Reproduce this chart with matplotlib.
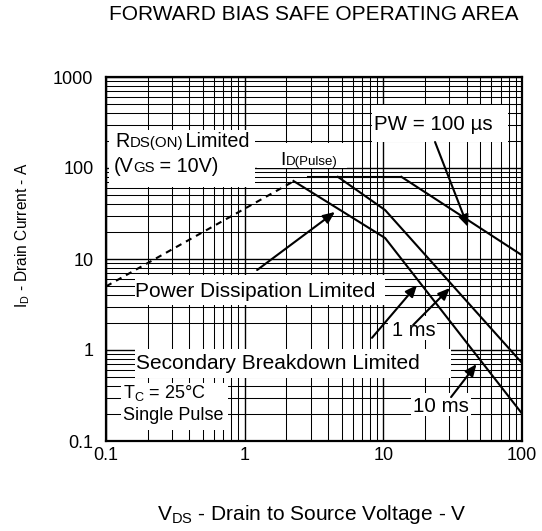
import numpy as np
import matplotlib
matplotlib.use('Agg')
import matplotlib.pyplot as plt
from matplotlib.patches import Rectangle
from matplotlib.ticker import LogLocator, NullFormatter

plt.rcParams['font.family'] = ['Liberation Sans', 'DejaVu Sans']

# limit lines (V, A)
ron_v = [0.1, 2.2]
ron_i = [5.0, 70.0]
pulse_v = [2.86, 13.5]
pulse_i = [80.0, 80.0]
us100_v = [13.5, 100.0]
us100_i = [80.0, 11.0]
ms1_v = [4.7, 10.3, 100.0]
ms1_i = [80.0, 34.5, 0.72]
ms10_v = [2.25, 10.3, 100.0]
ms10_i = [72.0, 17.0, 0.2]

x_ticks = [0.1, 1, 10, 100]
x_ticklabels = ['0.1', '1', '10', '100']
y_ticks = [0.1, 1, 10, 100, 1000]
y_ticklabels = ['0.1', '1', '10', '100', '1000']

# arrows: (tail, head) in data units
arrows = [
    ((23.6, 193.0), (40.8, 22.5)),   # PW = 100 us
    ((1.23, 7.57), (4.48, 32.9)),    # power dissipation
    ((8.28, 1.36), (17.5, 5.18)),
    ((16.4, 1.88), (30.2, 4.80)),    # 1 ms
    ((30.8, 0.304), (47.0, 0.70)),   # 10 ms
]

fig = plt.figure(figsize=(5.42, 5.31), dpi=100)
ax = fig.add_axes([106 / 542, 1 - 441 / 531, 416 / 542, 364 / 531])
ax.set_xscale('log')
ax.set_yscale('log')
ax.set_xlim(0.1, 100)
ax.set_ylim(0.1, 1000)
ax.set_xticks(x_ticks)
ax.set_xticklabels(x_ticklabels)
ax.set_yticks(y_ticks)
ax.set_yticklabels(y_ticklabels)
ax.xaxis.set_minor_locator(LogLocator(base=10, subs=np.arange(2, 10)))
ax.yaxis.set_minor_locator(LogLocator(base=10, subs=np.arange(2, 10)))
ax.xaxis.set_minor_formatter(NullFormatter())
ax.yaxis.set_minor_formatter(NullFormatter())
ax.tick_params(which='both', length=0, labelsize=13)
ax.tick_params(axis='y', pad=9)
ax.tick_params(axis='x', pad=4)
ax.set_axisbelow(True)
ax.grid(which='major', color='black', lw=1.0)
ax.grid(which='minor', color='black', lw=0.75)
for sp in ax.spines.values():
    sp.set_linewidth(1.6)


def px(x, y):
    # reference pixel -> axes fraction
    return ((x - 106) / 416, (441 - y) / 364)


def white_box(x0, y0, x1, y1):
    ax.add_patch(Rectangle(px(x0, y1), (x1 - x0) / 416, (y1 - y0) / 364,
                           transform=ax.transAxes, facecolor='white',
                           edgecolor='none', zorder=2))


renderer = fig.canvas.get_renderer()


def rich_text(x, y, runs):
    # runs of (text, size, kern after) on one baseline
    dx = 0
    for s, size, kern in runs:
        t = ax.annotate(s, px(x, y), xycoords='axes fraction', xytext=(dx, 0),
                        textcoords='offset pixels', fontsize=size,
                        va='baseline', ha='left', zorder=3)
        dx += t.get_window_extent(renderer).width + kern


white_box(109, 130, 255, 187)
white_box(257, 143, 347, 168)
white_box(372, 105, 508, 142)
white_box(135, 275, 385, 305)
white_box(135, 349, 451, 378)
white_box(121, 383, 228, 430)
white_box(388, 316, 437, 340)
white_box(411, 393, 471, 416)

rich_text(115, 147, [('R', 14.2, 0.5), ('DS(ON)', 10.8, -3), (' Limited', 14.2, 0)])
rich_text(114, 172, [('(V', 14.2, -1), ('GS', 10.8, 0), (' = 10V)', 14.2, 0)])
rich_text(280, 165, [('I', 14, 0.5), ('D(Pulse)', 9.5, 0)])
rich_text(374, 130, [('PW = 100 µs', 14.8, 0)])
rich_text(135, 297, [('Power Dissipation Limited', 15, 0)])
rich_text(136, 369, [('Secondary Breakdown Limited', 15, 0)])
rich_text(123, 398, [(r'T$_\mathregular{C}$ = 25°C', 13, 0)])
rich_text(123, 420, [('Single Pulse', 13, 0)])
rich_text(392, 336, [('1 ms', 14.5, 0)])
rich_text(413, 412, [('10 ms', 14.8, 0)])

ax.plot(ron_v, ron_i, color='black', lw=1.5, ls=(0, (3, 2.5)), zorder=4)
ax.plot(pulse_v, pulse_i, color='black', lw=1.5, zorder=4)
ax.plot(us100_v, us100_i, color='black', lw=1.5, zorder=4)
ax.plot(ms1_v, ms1_i, color='black', lw=1.5, zorder=4)
ax.plot(ms10_v, ms10_i, color='black', lw=1.5, zorder=4)

for tail, head in arrows:
    ax.annotate('', xy=head, xytext=tail,
                arrowprops=dict(arrowstyle='-|>,head_length=0.7,head_width=0.3',
                                color='black', lw=1.5, shrinkA=0, shrinkB=0,
                                mutation_scale=10), zorder=5)

fig.text(314 / 542, 1 - 15 / 531, 'FORWARD BIAS SAFE OPERATING AREA',
         ha='center', va='center', fontsize=15)
fig.text(311.5 / 542, 1 - 515 / 531, r'V$_\mathregular{DS}$ - Drain to Source Voltage - V',
         ha='center', va='center', fontsize=15)
fig.text(22.5 / 542, 1 - 235 / 531, r'I$_\mathregular{D}$ - Drain Current - A',
         ha='center', va='center', rotation=90, fontsize=11.2)

fig.savefig('out.png', dpi=100)
